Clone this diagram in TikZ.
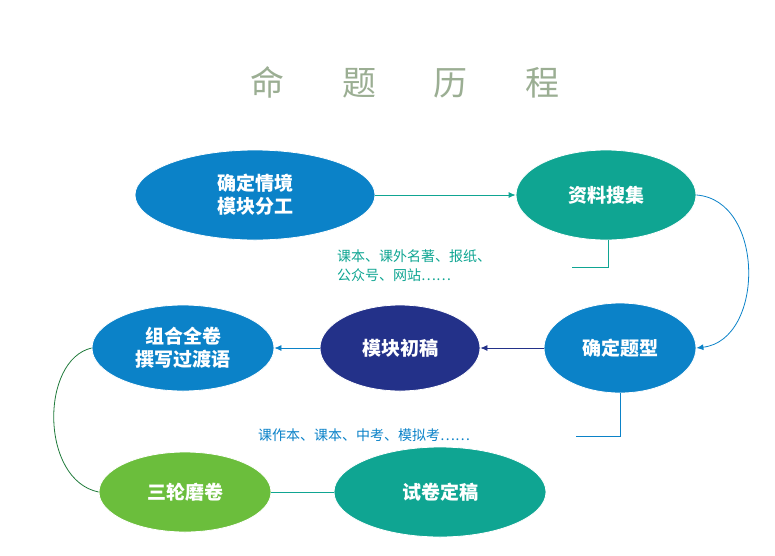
\documentclass[tikz,border=0pt]{standalone}
\usepackage{fontspec}
\setmainfont{Noto Sans CJK SC}
\usetikzlibrary{shapes.geometric, arrows.meta, positioning}
\definecolor{cblue}{HTML}{0B82C8}
\definecolor{cteal}{HTML}{0FA592}
\definecolor{cnavy}{HTML}{233189}
\definecolor{cgreen}{HTML}{6BBE3C}
\definecolor{cdkgreen}{HTML}{1F7A3A}
\definecolor{ctitle}{HTML}{9BAE93}
\tikzset{
    stage/.style={ellipse, draw=white, thick, text=white, align=center, inner sep=0pt,
        font=\fontsize{19}{23}\selectfont\bfseries},
    note/.style={align=left, font=\fontsize{14}{19}\selectfont, inner sep=0pt, anchor=west},
    arrow/.style={-{Latex[length=7pt,width=6pt]}, thick}
}
\begin{document}
\begin{tikzpicture}[x=1pt, y=-1pt]
    \useasboundingbox (0,0) rectangle (775,555);
    \node[font=\fontsize{34}{40}\selectfont, text=ctitle] (Title) at (405,82) {命\hspace{1.7em}题\hspace{1.7em}历\hspace{1.7em}程};

    \node[stage, fill=cblue, minimum width=240, minimum height=90] (Situation) at (255,195) {确定情境\\模块分工};
    \node[stage, fill=cteal, minimum width=180, minimum height=90] (Collect) at (606,195) {资料搜集};
    \node[stage, fill=cblue, minimum width=152, minimum height=90] (Type) at (620,348) {确定题型};
    \node[stage, fill=cnavy, minimum width=160, minimum height=86] (Draft) at (400,348) {模块初稿};
    \node[stage, fill=cblue, minimum width=182, minimum height=86] (Combine) at (183,348) {组合全卷\\撰写过渡语};
    \node[stage, fill=cgreen, minimum width=172, minimum height=80] (Polish) at (185,492) {三轮磨卷};
    \node[stage, fill=cteal, minimum width=212, minimum height=90] (Final) at (440,492) {试卷定稿};

    \node[note, text=cteal] (Sources) at (337,266) {课本、课外名著、报纸、\\公众号、网站……};
    \node[note, text=cblue] (Kinds) at (258,435) {课作本、课本、中考、模拟考……};

    \draw[arrow, cteal] (Situation) -- (Collect);
    \draw[arrow, cblue] (Collect.east) .. controls (765,200) and (765,340) .. (Type.east);
    \draw[arrow, cnavy] (Type) -- (Draft);
    \draw[arrow, cblue] (Draft) -- (Combine);
    \draw[thick, cdkgreen] (Combine.west) .. controls (40,360) and (40,480) .. (Polish.west);
    \draw[thick, cteal] (Polish) -- (Final);

    % bracket lines to the notes
    \draw[thick, cteal] (Collect.south) ++(2,0) |- ++(-36,27);
    \draw[thick, cblue] (Type.south) |- ++(-44,43);
\end{tikzpicture}
\end{document}
